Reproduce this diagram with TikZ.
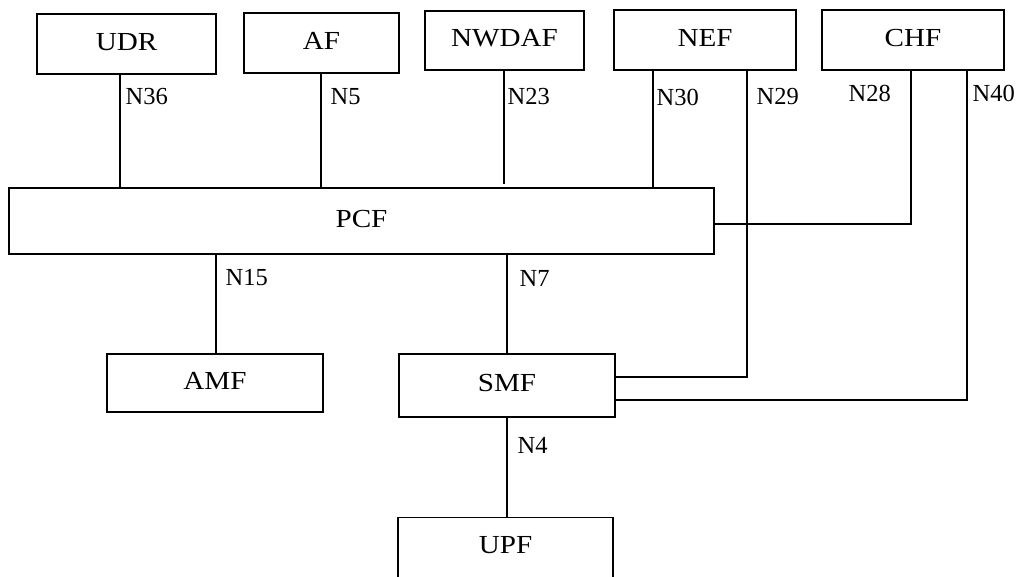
\documentclass[tikz,border=0pt]{standalone}
\usepackage{fontspec}
\setmainfont{Liberation Serif}
\newfontfamily\boxfont[FakeStretch=1.12]{Liberation Serif}
\begin{document}
\begin{tikzpicture}[x=1pt,y=-1pt,line width=1.2pt,
  nfbox/.style={draw,inner sep=0pt,font=\boxfont\fontsize{26}{30}\selectfont,text depth=5pt},
  boxtext/.style={inner sep=0pt,font=\boxfont\fontsize{26}{30}\selectfont,text depth=5pt},
  iflabel/.style={inner sep=0pt,anchor=west,font=\fontsize{24.5}{28}\selectfont}]
\useasboundingbox (0,0) rectangle (1017,577);
\clip (0,0) rectangle (1017,577);
% boxes
\node[nfbox,minimum width=179,minimum height=60] (udr) at (126.5,44) {UDR};
\node[nfbox,minimum width=155,minimum height=60] (af) at (321.5,43) {AF};
\node[nfbox,minimum width=159,minimum height=59] (nwdaf) at (504.5,40.5) {NWDAF};
\node[nfbox,minimum width=182,minimum height=60] (nef) at (705,40) {NEF};
\node[nfbox,minimum width=182,minimum height=60] (chf) at (913,40) {CHF};
\node[nfbox,minimum width=705,minimum height=66] (pcf) at (361.5,221) {PCF};
\node[nfbox,minimum width=216,minimum height=58] (amf) at (215,383) {AMF};
\node[nfbox,minimum width=216,minimum height=63] (smf) at (507,385.5) {SMF};
\node[nfbox,minimum width=215,minimum height=120,anchor=north] (upf) at (505.5,517) {};
\node[boxtext] (upftext) at ([yshift=-30.5]upf.north) {UPF};
% reference coordinates
\coordinate (c36) at (120,0);
\coordinate (c5) at (321,0);
\coordinate (c23) at (504,0);
\coordinate (c30) at (653,0);
\coordinate (c29) at (747,377);
\coordinate (c28) at (911,224);
\coordinate (c40) at (967,400);
\coordinate (c15) at (216,0);
\coordinate (c7) at (507,0);
% connectors
\draw (udr.south -| c36) -- (pcf.north -| c36);
\draw (af.south -| c5) -- (pcf.north -| c5);
\draw (nwdaf.south -| c23) -- ([yshift=3]pcf.north -| c23);
\draw (nef.south -| c30) -- (pcf.north -| c30);
\draw (nef.south -| c29) -- (c29) -- (smf.east |- c29);
\draw (chf.south -| c28) -- (c28) -- (pcf.east |- c28);
\draw (chf.south -| c40) -- (c40) -- (smf.east |- c40);
\draw (pcf.south -| c15) -- (amf.north -| c15);
\draw (pcf.south -| c7) -- (smf.north -| c7);
\draw (smf.south -| c7) -- (upf.north -| c7);
% labels
\node[iflabel] (l36) at (125,97) {N36};
\node[iflabel] (l5) at (330,97) {N5};
\node[iflabel] (l23) at (507,97) {N23};
\node[iflabel] (l30) at (656,97) {N30};
\node[iflabel] (l29) at (756,97) {N29};
\node[iflabel] (l28) at (848,93) {N28};
\node[iflabel] (l40) at (972,93) {N40};
\node[iflabel] (l15) at (225,278) {N15};
\node[iflabel] (l7) at (519,278) {N7};
\node[iflabel] (l4) at (517,445) {N4};
\end{tikzpicture}
\end{document}
